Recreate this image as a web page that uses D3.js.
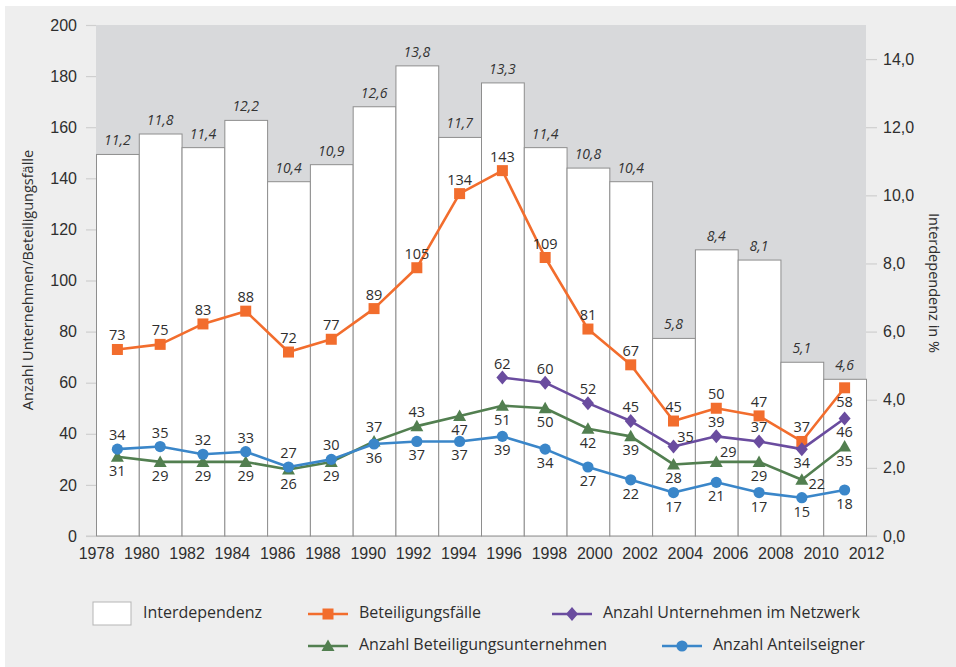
<!DOCTYPE html>
<html lang="de">
<head>
    <meta charset="UTF-8">
    <title>Interdependenz und Beteiligungen 1978-2012</title>
    <style>
        body {
            margin: 0;
            padding: 0;
            background-color: #fff;
        }
        svg {
            display: block;
            font-family: "Open Sans", sans-serif;
        }
        .axis text {
            font-size: 16px;
            fill: #2e2e2e;
        }
        .axis line, .axis path {
            stroke: #cfcfcf;
            stroke-width: 1.2px;
        }
        .bar {
            fill: #fff;
            stroke: #8e8e8e;
            stroke-width: 1px;
        }
        .bar-label {
            font-size: 14px;
            font-style: italic;
            fill: #333;
            text-anchor: middle;
        }
        .val {
            font-size: 14.5px;
            fill: #2e2e2e;
            text-anchor: middle;
        }
        .series-line {
            fill: none;
            stroke-width: 2.6px;
            stroke-linejoin: round;
        }
        .title {
            font-size: 14.5px;
            fill: #2e2e2e;
            text-anchor: middle;
        }
        .legend text {
            font-size: 16px;
            fill: #2e2e2e;
            dominant-baseline: middle;
        }
    </style>
</head>
<body>
    <svg id="chart" width="956" height="667"></svg>

    <script src="https://d3js.org/d3.v7.min.js"></script>
    <script>
        // data
        const years = [1978, 1980, 1982, 1984, 1986, 1988, 1990, 1992, 1994,
                       1996, 1998, 2000, 2002, 2004, 2006, 2008, 2010, 2012];
        const interdependenz = [11.2, 11.8, 11.4, 12.2, 10.4, 10.9, 12.6, 13.8, 11.7,
                                13.3, 11.4, 10.8, 10.4, 5.8, 8.4, 8.1, 5.1, 4.6];
        const beteiligungsfaelle = [73, 75, 83, 88, 72, 77, 89, 105, 134,
                                    143, 109, 81, 67, 45, 50, 47, 37, 58];
        const unternehmenNetzwerk = [null, null, null, null, null, null, null, null, null,
                                     62, 60, 52, 45, 35, 39, 37, 34, 46];
        const beteiligungsunternehmen = [31, 29, 29, 29, 26, 29, 37, 43, 47,
                                         51, 50, 42, 39, 28, 29, 29, 22, 35];
        const anteilseigner = [34, 35, 32, 33, 27, 30, 36, 37, 37,
                               39, 34, 27, 22, 17, 21, 17, 15, 18];

        const leftTicks = [0, 20, 40, 60, 80, 100, 120, 140, 160, 180, 200];
        const rightTicks = [0, 2, 4, 6, 8, 10, 12, 14];
        const xTicks = years;

        const de = d3.formatLocale({decimal: ",", thousands: ".", grouping: [3], currency: ["", " €"]});
        const f1 = de.format(".1f");

        const svg = d3.select('#chart');
        const margin = {left: 96, right: 90, top: 25, bottom: 131};
        const W = 956, H = 667;
        const innerW = W - margin.left - margin.right;
        const innerH = H - margin.top - margin.bottom;

        // scales
        const xBand = d3.scaleBand().domain(years).range([margin.left, margin.left + innerW]);
        const xAxisScale = d3.scaleLinear().domain([1978, 2012]).range([margin.left, margin.left + innerW]);
        const yLeft = d3.scaleLinear().domain([0, 200]).range([margin.top + innerH, margin.top]);
        const yRight = d3.scaleLinear().domain([0, 15]).range([margin.top + innerH, margin.top]);
        const cx = (d, i) => xBand(years[i]) + xBand.bandwidth() / 2;

        // background panel
        svg.append('rect').attr('x', 5).attr('y', 6).attr('width', W - 5).attr('height', H - 6)
            .attr('fill', '#eeeeee');
        svg.append('rect').attr('x', margin.left).attr('y', margin.top)
            .attr('width', innerW).attr('height', innerH).attr('fill', '#d8d9db');

        // axes
        svg.append('g').attr('class', 'axis')
            .attr('transform', `translate(${margin.left},0)`)
            .call(d3.axisLeft(yLeft).tickValues(leftTicks).tickSize(10).tickPadding(9))
            .call(g => g.select('.domain').remove());

        svg.append('g').attr('class', 'axis')
            .attr('transform', `translate(${margin.left + innerW},0)`)
            .call(d3.axisRight(yRight).tickValues(rightTicks).tickSize(11).tickPadding(6).tickFormat(f1))
            .call(g => g.select('.domain').remove());

        svg.append('g').attr('class', 'axis')
            .attr('transform', `translate(0,${margin.top + innerH})`)
            .call(d3.axisBottom(xAxisScale).tickValues(xTicks).tickFormat(d3.format('d')).tickSize(0).tickPadding(12))
            .call(g => g.select('.domain').attr('d', `M${margin.left - 10},0H${margin.left + innerW + 11}`));

        // bars
        svg.selectAll('.bar')
            .data(interdependenz)
            .enter().append('rect')
            .attr('class', 'bar')
            .attr('x', (d, i) => xBand(years[i]) + 0.5)
            .attr('y', d => yRight(d))
            .attr('width', xBand.bandwidth())
            .attr('height', d => yRight(0) - yRight(d));

        svg.selectAll('.bar-label')
            .data(interdependenz)
            .enter().append('text')
            .attr('class', 'bar-label')
            .attr('x', cx)
            .attr('y', d => yRight(d) - 9)
            .text(d => f1(d));

        // line series; label placement: a above, b below, r right, R above-right
        const series = [
            {values: beteiligungsfaelle, color: '#f26d2d', marker: 'square', pos: 'aaaaaaaaaaaaaaaaab'},
            {values: unternehmenNetzwerk, color: '#6a4c9f', marker: 'diamond', pos: '---------aaaaRaabb'},
            {values: beteiligungsunternehmen, color: '#527f50', marker: 'triangle', pos: 'bbbbbbaabbbbbbRbrb'},
            {values: anteilseigner, color: '#3a86c9', marker: 'circle', pos: 'aaaaaabbbbbbbbbbbb'}
        ];

        const line = d3.line()
            .defined(d => d != null)
            .x((d, i) => cx(d, i))
            .y(d => yLeft(d));

        function drawMarker(g, type, color) {
            if (type === 'square') {
                g.append('rect').attr('x', -5.5).attr('y', -5.5).attr('width', 11).attr('height', 11).attr('fill', color);
            } else if (type === 'diamond') {
                g.append('path').attr('d', 'M0,-7L6,0L0,7L-6,0Z').attr('fill', color);
            } else if (type === 'triangle') {
                g.append('path').attr('d', 'M0,-6.5L6.5,5L-6.5,5Z').attr('fill', color);
            } else {
                g.append('circle').attr('r', 5.6).attr('fill', color);
            }
        }

        const offsets = {a: [0, -9], b: [0, 19], r: [15, 9], R: [12, -5]};

        series.forEach(s => {
            svg.append('path')
                .datum(s.values)
                .attr('class', 'series-line')
                .attr('stroke', s.color)
                .attr('d', line);

            s.values.forEach((v, i) => {
                if (v == null) return;
                const g = svg.append('g').attr('transform', `translate(${cx(v, i)},${yLeft(v)})`);
                drawMarker(g, s.marker, s.color);
            });
        });

        // value labels on top of everything
        series.forEach(s => {
            s.values.forEach((v, i) => {
                if (v == null) return;
                const o = offsets[s.pos[i]];
                svg.append('text')
                    .attr('class', 'val')
                    .attr('x', cx(v, i) + o[0])
                    .attr('y', yLeft(v) + o[1])
                    .text(v);
            });
        });

        // axis titles
        svg.append('text').attr('class', 'title')
            .attr('transform', 'translate(33,280) rotate(-90)')
            .text('Anzahl Unternehmen/Beteiligungsfälle');
        svg.append('text').attr('class', 'title')
            .attr('transform', 'translate(929,283) rotate(90)')
            .text('Interdependenz in %');

        // legend
        const legend = svg.append('g').attr('class', 'legend');
        legend.append('rect').attr('x', 93).attr('y', 602).attr('width', 38).attr('height', 23)
            .attr('fill', '#fff').attr('stroke', '#b5b5b5');
        legend.append('text').attr('x', 143).attr('y', 614).text('Interdependenz');

        const legendItems = [
            {s: series[0], x: 308, y: 614, label: 'Beteiligungsfälle'},
            {s: series[1], x: 552, y: 614, label: 'Anzahl Unternehmen im Netzwerk'},
            {s: series[2], x: 308, y: 646, label: 'Anzahl Beteiligungsunternehmen'},
            {s: series[3], x: 662, y: 646, label: 'Anzahl Anteilseigner'}
        ];
        legendItems.forEach(it => {
            legend.append('line')
                .attr('x1', it.x).attr('x2', it.x + 40)
                .attr('y1', it.y).attr('y2', it.y)
                .attr('stroke', it.s.color).attr('stroke-width', 2.6);
            drawMarker(legend.append('g').attr('transform', `translate(${it.x + 20},${it.y})`), it.s.marker, it.s.color);
            legend.append('text').attr('x', it.x + 51).attr('y', it.y).text(it.label);
        });
    </script>
</body>
</html>
